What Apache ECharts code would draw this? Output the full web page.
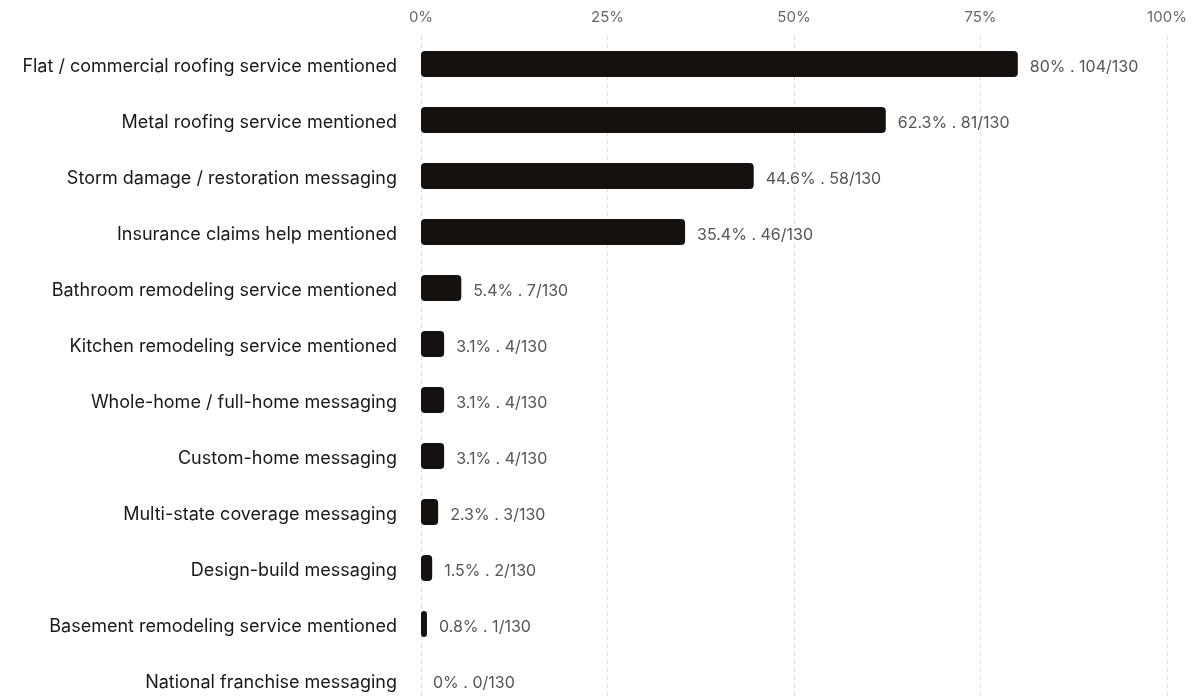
<!DOCTYPE html>
<html><head><meta charset="utf-8">
<script src="https://cdn.jsdelivr.net/npm/echarts@6/dist/echarts.min.js"></script>
<style>html,body{margin:0;padding:0;background:#fff}#c{width:1193px;height:700px}</style>
</head><body><div id="c"></div>
<script>
const categories = [
  "Flat / commercial roofing service mentioned",
  "Metal roofing service mentioned",
  "Storm damage / restoration messaging",
  "Insurance claims help mentioned",
  "Bathroom remodeling service mentioned",
  "Kitchen remodeling service mentioned",
  "Whole-home / full-home messaging",
  "Custom-home messaging",
  "Multi-state coverage messaging",
  "Design-build messaging",
  "Basement remodeling service mentioned",
  "National franchise messaging"
];
const percents = [80, 62.3, 44.6, 35.4, 5.4, 3.1, 3.1, 3.1, 2.3, 1.5, 0.8, 0];
const counts = [104, 81, 58, 46, 7, 4, 4, 4, 3, 2, 1, 0];
const total = 130;
const tickLabels = ["0%", "25%", "50%", "75%", "100%"];

const chart = echarts.init(document.getElementById('c'), null, {renderer: 'canvas'});
chart.setOption({
  animation: false,
  backgroundColor: '#ffffff',
  grid: {left: 421, width: 746, top: 36, height: 672, containLabel: false, outerBoundsMode: 'none'},
  xAxis: {
    type: 'value', position: 'top', min: 0, max: 100, interval: 25,
    axisLine: {show: false}, axisTick: {show: false},
    axisLabel: {color: '#666', fontFamily: 'Inter', fontSize: 15, margin: 11,
      formatter: v => tickLabels[Math.round(v / 25)]},
    splitLine: {show: true, lineStyle: {color: '#e2e0dc', type: [4, 4], width: 1}}
  },
  yAxis: {
    type: 'category', inverse: true, data: categories,
    axisLine: {show: false}, axisTick: {show: false},
    axisLabel: {color: '#1a1816', fontFamily: 'Inter', fontSize: 18, margin: 24,
      verticalAlign: 'top', lineHeight: 6}
  },
  series: [{
    type: 'bar', data: percents, barWidth: 26,
    itemStyle: {color: '#14110e', borderRadius: 4},
    label: {show: true, position: 'right', distance: 12, color: '#555', fontFamily: 'Inter', fontSize: 16,
      offset: [0, 3],
      formatter: p => p.value + '% . ' + counts[p.dataIndex] + '/' + total}
  }]
});
</script></body></html>
